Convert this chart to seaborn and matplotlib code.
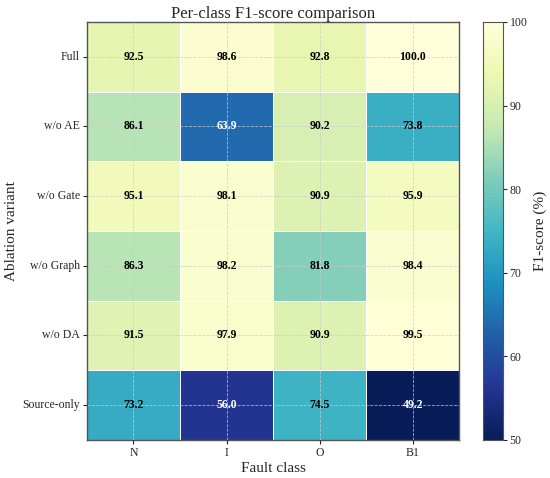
import numpy as np
import pandas as pd
import matplotlib
matplotlib.use('Agg')
import matplotlib.pyplot as plt
import seaborn as sns

variants = ['Full', 'w/o AE', 'w/o Gate', 'w/o Graph', 'w/o DA', 'Source-only']
classes = ['N', 'I', 'O', 'B1']
f1_N = [92.5, 86.1, 95.1, 86.3, 91.5, 73.2]
f1_I = [98.6, 63.9, 98.1, 98.2, 97.9, 56.0]
f1_O = [92.8, 90.2, 90.9, 81.8, 90.9, 74.5]
f1_B1 = [100.0, 73.8, 95.9, 98.4, 99.5, 49.2]

df = pd.DataFrame({'N': f1_N, 'I': f1_I, 'O': f1_O, 'B1': f1_B1}, index=variants)[classes]

sns.set_style('white')
plt.rcParams['font.family'] = ['Liberation Serif', 'DejaVu Serif']

fig = plt.figure(figsize=(5.5, 4.78), dpi=100)
ax = fig.add_axes([0.158, 0.0795, 0.677, 0.8745])
cax = fig.add_axes([0.878, 0.0795, 0.036, 0.8745])

sns.heatmap(df, ax=ax, cbar_ax=cax, cmap='YlGnBu_r', vmin=50, vmax=100,
            annot=False, linewidths=0.5, linecolor='white',
            cbar_kws={'label': 'F1-score (%)'})

vals = df.values
for i in range(vals.shape[0]):
    for j in range(vals.shape[1]):
        v = vals[i, j]
        ax.text(j + 0.5, i + 0.5, f'{v:.1f}', ha='center', va='center',
                fontsize=8.5, fontweight='bold', color='white' if v < 70 else 'black')

ax.set_title('Per-class F1-score comparison', fontsize=12, pad=3)
ax.set_xlabel('Fault class', fontsize=11, labelpad=2)
ax.set_ylabel('Ablation variant', fontsize=11, labelpad=3)
ax.tick_params(axis='both', labelsize=8.5, length=3, width=0.8, left=True, bottom=True, pad=2)
ax.set_yticklabels(variants, rotation=0)
ax.set_xticklabels(classes, rotation=0)
ax.grid(True, linestyle='--', color='#cccccc', linewidth=0.6, alpha=0.8)
ax.set_axisbelow(False)
for s in ax.spines.values():
    s.set_visible(True)
    s.set_color('#555555')
    s.set_linewidth(1)

cax.tick_params(labelsize=8.5, length=3, width=0.8, pad=2)
cax.yaxis.label.set_size(11)
for s in cax.spines.values():
    s.set_visible(True)
    s.set_color('#555555')

fig.savefig('out.png', dpi=100)
